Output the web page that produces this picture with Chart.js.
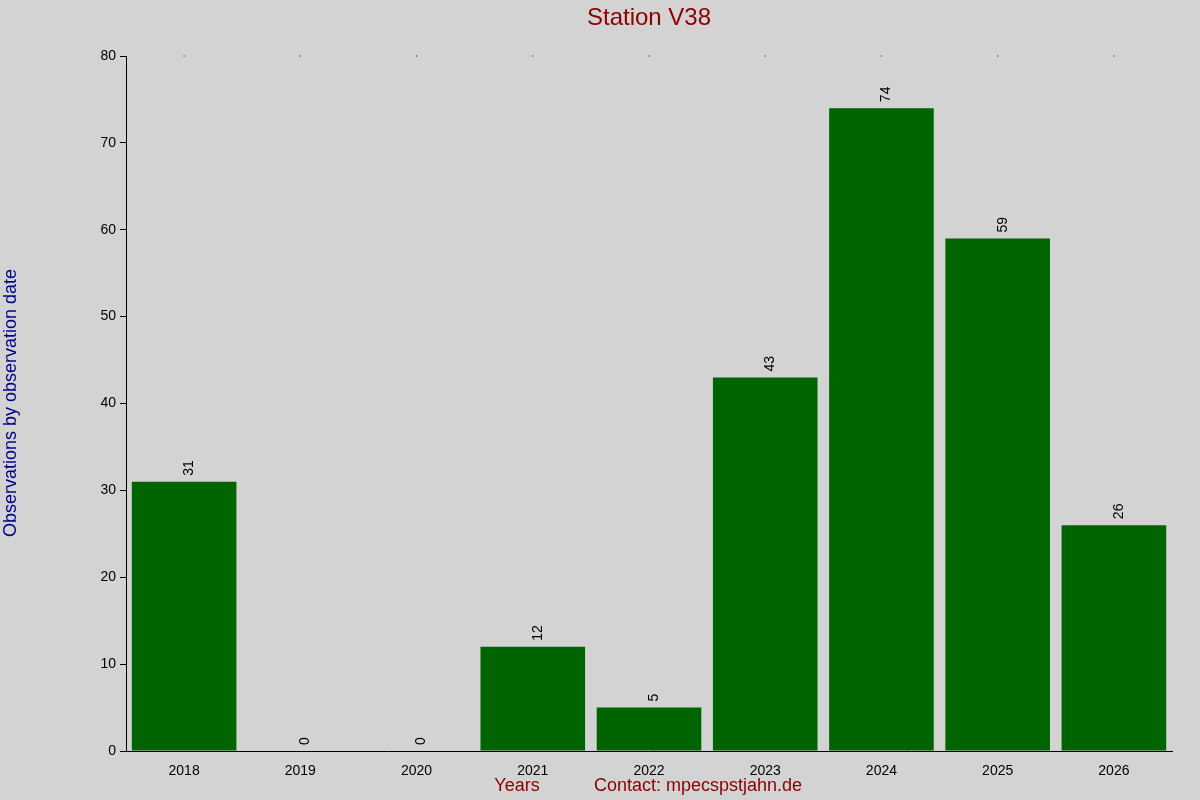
<!DOCTYPE html>
<html><head><style>html,body{margin:0;background:#d3d3d3}</style>
<script src="https://cdn.jsdelivr.net/npm/chart.js@4"></script></head>
<body><div style="width:1200px;height:800px"><canvas id="c" width="1200" height="800"></canvas></div>
<script>
const categories=["2018","2019","2020","2021","2022","2023","2024","2025","2026"];
const values=[31,0,0,12,5,43,74,59,26];
const yTicks=[0,10,20,30,40,50,60,70,80];
const F='"Liberation Sans", Arial, sans-serif';
const deco={id:'deco',afterDatasetsDraw(ch){
 const c=ch.ctx,x=ch.scales.x,y=ch.scales.y;
 c.save();c.fillStyle='#000';c.font='14px '+F;
 values.forEach((v,i)=>{const px=x.getPixelForValue(i),py=y.getPixelForValue(v);
  c.save();c.translate(px+5,py-6);c.rotate(-Math.PI/2);c.textAlign='left';c.textBaseline='middle';c.fillText(String(v),0,0);c.restore();
  c.fillRect(px-0.5,ch.chartArea.top-0.5,1,1);});
 c.textAlign='center';c.textBaseline='middle';
 c.fillStyle='#8b0000';c.font='24px '+F;c.fillText('Station V38',649,18);
 c.font='18px '+F;c.fillText('Years',517,786);c.fillText('Contact: mpecspstjahn.de',698,786);
 c.fillStyle='#00008b';c.translate(11,403);c.rotate(-Math.PI/2);c.fillText('Observations by observation date',0,0);
 c.restore();}};
new Chart(document.getElementById('c'),{type:'bar',
 data:{labels:categories,datasets:[{data:values,backgroundColor:'#006400',barPercentage:0.9,categoryPercentage:1}]},
 options:{responsive:false,animation:false,layout:{padding:{top:56,right:28,left:0,bottom:0}},
  plugins:{legend:{display:false},tooltip:{enabled:false}},
  scales:{
   y:{min:0,max:80,afterFit(s){s.width=126},afterBuildTicks(s){s.ticks=yTicks.map(v=>({value:v}))},
      ticks:{color:'#000',font:{size:14,family:F},padding:4},
      grid:{drawOnChartArea:false,tickLength:6,color:'#000'},border:{color:'#000'}},
   x:{afterFit(s){s.height=49},ticks:{color:'#000',font:{size:14,family:F},padding:4},
      grid:{display:false},border:{color:'#000'}}}},
 plugins:[deco]});
</script></body></html>
